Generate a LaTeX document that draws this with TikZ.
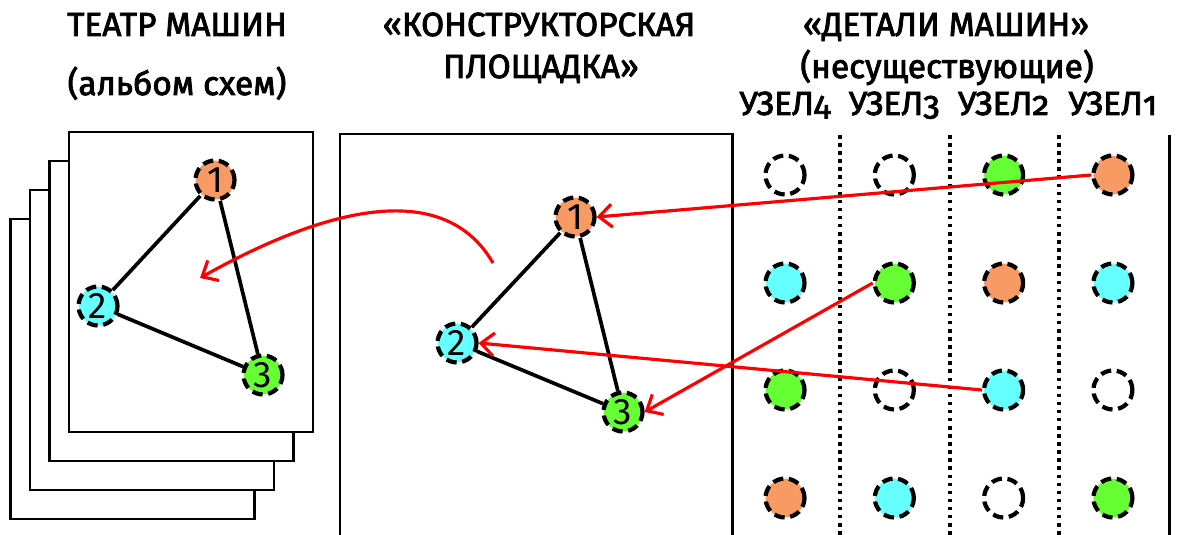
\documentclass[tikz,border=0pt]{standalone}
\usepackage{fontspec}
\setmainfont{Fira Sans}
\newfontfamily\headfont[FakeBold=2.5]{Fira Sans}
\newfontfamily\knotfont[Numbers=OldStyle, FakeBold=2.5]{Fira Sans}
\newfontfamily\digitfont{Fira Sans}
\usetikzlibrary{arrows.meta}
\definecolor{partorange}{HTML}{F79A63}
\definecolor{partcyan}{HTML}{66FFFF}
\definecolor{partgreen}{HTML}{66FF33}

\begin{document}
\begin{tikzpicture}[
    x=0.2mm, y=-0.2mm,
    part/.style = {circle, draw=black, line width=2.4pt,
dash pattern=on 6pt off 3.2pt, minimum size=7.8mm, inner sep=0pt,
font=\fontsize{21}{21}\digitfont},
    sheet/.style = {draw=black, line width=1.7pt, fill=white},
    edge/.style = {draw=black, line width=2.1pt},
    link/.style = {draw=red, line width=1.8pt,
-{Straight Barb[length=2.6mm, width=4.6mm]}},
    title/.style = {anchor=base, font=\fontsize{19}{23}\headfont}
]
  \useasboundingbox (0,0) rectangle (1178,535);

  % headings
  \node (theatre)  [title] at (177,36) {ТЕАТР МАШИН};
  \node (album)    [title] at (177,95) {(альбом схем)};
  \node (site1)    [title] at (539,36) {«КОНСТРУКТОРСКАЯ};
  \node (site2)    [title] at (541,78) {ПЛОЩАДКА»};
  \node (details1) [title] at (946,36) {«ДЕТАЛИ МАШИН»};
  \node (details2) [title] at (947,78) {(несуществующие)};

  % album of schemes
  \foreach \i in {3,2,1}
    \draw[sheet] ({69-19.5*\i},{132+29*\i}) rectangle ++(244,300);
  \draw[sheet] (69,132) rectangle (313,432);

  \node (a1) [part, fill=partorange] at (215,180) {1};
  \node (a2) [part, fill=partcyan]   at (98,306)  {2};
  \node (a3) [part, fill=partgreen]  at (263,375) {3};
  \draw[edge] (a1) -- (a2);
  \draw[edge] (a2) -- (a3);
  \draw[edge] (a1) -- (a3);

  % construction site
  \draw[line width=1.7pt] (340,535) -- (340,134) -- (732,134) -- (732,535);

  \node (m1) [part, fill=partorange] at (575,217) {1};
  \node (m2) [part, fill=partcyan]   at (457,343) {2};
  \node (m3) [part, fill=partgreen]  at (623,412) {3};
  \draw[edge] (m1) -- (m2);
  \draw[edge] (m2) -- (m3);
  \draw[edge] (m1) -- (m3);

  % machine parts
  \draw[line width=1.7pt] (1169,135) -- (1169,535);
  \foreach \x in {840,950,1059}
    \draw[line width=2pt, dash pattern=on 2pt off 2.6pt] (\x,135) -- (\x,535);

  \foreach \k/\n in {1/4,2/3,3/2,4/1}
    \node (knot\n) [title, font=\fontsize{19}{23}\knotfont] at ({785+(\k-1)*109.3},115) {УЗЕЛ\n};

  \foreach \r/\y/\colors in {1/175/{white,white,partgreen,partorange},
                             2/283/{partcyan,partgreen,partorange,partcyan},
                             3/390/{partgreen,white,partcyan,white},
                             4/498/{partorange,partcyan,white,partgreen}}
    \foreach \c [count=\k] in \colors
      \node (part-\r-\k) [part, fill=\c] at ({785+(\k-1)*109.3},\y) {};

  % transfers
  \draw[link] (part-1-4.west) -- (m1.east);
  \draw[link] (part-2-2.west) -- (m3.east);
  \draw[link] (part-3-3.west) -- (m2.east);

  \coordinate (bend-start) at (493,263);
  \coordinate (bend-end)   at (200,278);
  \draw[link] (bend-start) .. controls (445,180) and (330,205) .. (bend-end);

\end{tikzpicture}
\end{document}
